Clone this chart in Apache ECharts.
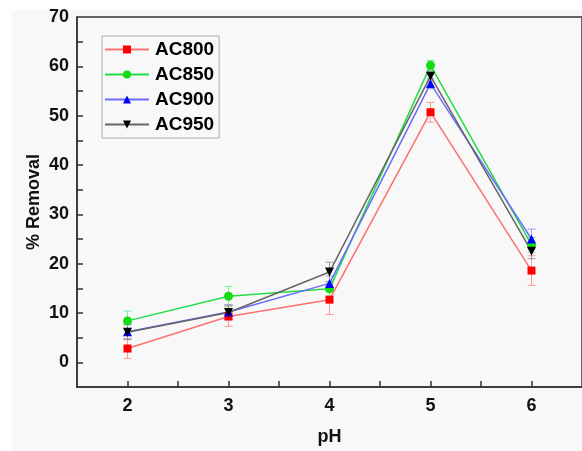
<!DOCTYPE html>
<html>
<head>
<meta charset="utf-8">
<script src="https://cdn.jsdelivr.net/npm/echarts@6/dist/echarts.min.js"></script>
<style>
html,body{margin:0;padding:0;background:#fff;}
#c{width:582px;height:451px;}
</style>
</head>
<body>
<div id="c"></div>
<script>
var phValues = [2, 3, 4, 5, 6];
var seriesNames = ['AC800', 'AC850', 'AC900', 'AC950'];
var ac800 = [2.8, 9.3, 12.7, 50.7, 18.6];
var ac800Err = [2.0, 2.0, 3.0, 2.0, 3.0];
var ac850 = [8.4, 13.4, 14.9, 60.2, 23.8];
var ac850Err = [2.0, 2.0, 1.5, 1.0, 1.5];
var ac900 = [6.2, 10.2, 16.0, 56.5, 25.0];
var ac900Err = [1.5, 1.5, 1.5, 1.0, 2.0];
var ac950 = [6.1, 10.1, 18.3, 58.0, 22.5];
var ac950Err = [1.5, 1.5, 2.0, 1.0, 1.5];

var allVals = [ac800, ac850, ac900, ac950];
var allErr = [ac800Err, ac850Err, ac900Err, ac950Err];
var markerColors = ['#ff0000', '#11dd11', '#0000ff', '#000000'];
var lineColors = ['#ff7070', '#22dd44', '#6b6bff', '#666666'];
var errColors = ['#ff9a9a', '#77ee99', '#9a9aff', '#999999'];
var symbols = ['rect', 'circle', 'triangle', 'triangle'];
var rotates = [0, 0, 0, 180];

var FONT = 'Liberation Sans, Arial, sans-serif';

var series = [];
allVals.forEach(function (vals, i) {
  var errData = phValues.map(function (x, j) { return [x, vals[j] - allErr[i][j], vals[j] + allErr[i][j]]; });
  series.push({
    type: 'custom',
    name: seriesNames[i] + '_err',
    z: 1,
    silent: true,
    data: errData,
    encode: { x: 0, y: [1, 2] },
    renderItem: function (params, api) {
      var x = api.value(0);
      var lo = api.coord([x, api.value(1)]);
      var hi = api.coord([x, api.value(2)]);
      var w = 4;
      var st = { stroke: errColors[i], lineWidth: 1 };
      return {
        type: 'group',
        children: [
          { type: 'line', shape: { x1: lo[0], y1: lo[1], x2: hi[0], y2: hi[1] }, style: st },
          { type: 'line', shape: { x1: lo[0] - w, y1: lo[1], x2: lo[0] + w, y2: lo[1] }, style: st },
          { type: 'line', shape: { x1: hi[0] - w, y1: hi[1], x2: hi[0] + w, y2: hi[1] }, style: st }
        ]
      };
    }
  });
});
allVals.forEach(function (vals, i) {
  series.push({
    type: 'line',
    name: seriesNames[i],
    z: 3,
    data: phValues.map(function (x, j) { return [x, vals[j]]; }),
    symbol: symbols[i],
    symbolRotate: rotates[i],
    symbolSize: i === 0 ? 8 : 9,
    showAllSymbol: true,
    itemStyle: { color: markerColors[i] },
    lineStyle: { color: lineColors[i], width: 1.5 },
    emphasis: { disabled: true },
    animation: false
  });
});

var chart = echarts.init(document.getElementById('c'), null, { renderer: 'canvas' });
chart.setOption({
  animation: false,
  backgroundColor: '#f8f8f8',
  graphic: [
    { type: 'rect', left: 0, top: 0, shape: { width: 12, height: 451 }, style: { fill: '#ffffff' }, z: -10 },
    { type: 'rect', left: 0, top: 0, shape: { width: 582, height: 10 }, style: { fill: '#ffffff' }, z: -10 }
  ],
  grid: {
    left: 77, top: 17, width: 506, height: 371,
    show: true, borderColor: '#333', borderWidth: 1.5, backgroundColor: 'transparent'
  },
  legend: {
    data: seriesNames,
    orient: 'vertical',
    left: 102, top: 36,
    padding: [4, 5, 4, 2],
    itemGap: 6,
    itemWidth: 44, itemHeight: 10,
    borderColor: '#aaaaaa', borderWidth: 1,
    backgroundColor: 'transparent',
    textStyle: { fontFamily: FONT, fontWeight: 'bold', fontSize: 19, color: '#000', lineHeight: 19, padding: [0, 0, 0, 1] }
  },
  xAxis: {
    type: 'value', min: 1.5, max: 6.5, interval: 0.5,
    name: 'pH', nameLocation: 'middle', nameGap: 41, nameMoveOverlap: false,
    nameTextStyle: { fontFamily: FONT, fontWeight: 'bold', fontSize: 18, color: '#111' },
    axisLine: { onZero: false, lineStyle: { color: '#333', width: 1.5 } },
    axisTick: { inside: true, length: 6, lineStyle: { color: '#333', width: 1.5 },
      customValues: [2, 2.5, 3, 3.5, 4, 4.5, 5, 5.5, 6] },
    axisLabel: { fontFamily: FONT, fontWeight: 'bold', fontSize: 18, color: '#111', margin: 10,
      customValues: phValues, formatter: function (v) { return String(v); } },
    splitLine: { show: false }
  },
  yAxis: {
    type: 'value', min: -5, max: 70, interval: 5,
    name: '% Removal', nameLocation: 'middle', nameGap: 34, nameMoveOverlap: false,
    nameTextStyle: { fontFamily: FONT, fontWeight: 'bold', fontSize: 18, color: '#111' },
    axisLine: { onZero: false, lineStyle: { color: '#333', width: 1.5 } },
    axisTick: { inside: true, length: 6, lineStyle: { color: '#333', width: 1.5 },
      customValues: [0, 5, 10, 15, 20, 25, 30, 35, 40, 45, 50, 55, 60, 65] },
    axisLabel: { fontFamily: FONT, fontWeight: 'bold', fontSize: 18, color: '#111', margin: 8,
      customValues: [0, 10, 20, 30, 40, 50, 60, 70] },
    splitLine: { show: false }
  },
  series: series
});
</script>
</body>
</html>
